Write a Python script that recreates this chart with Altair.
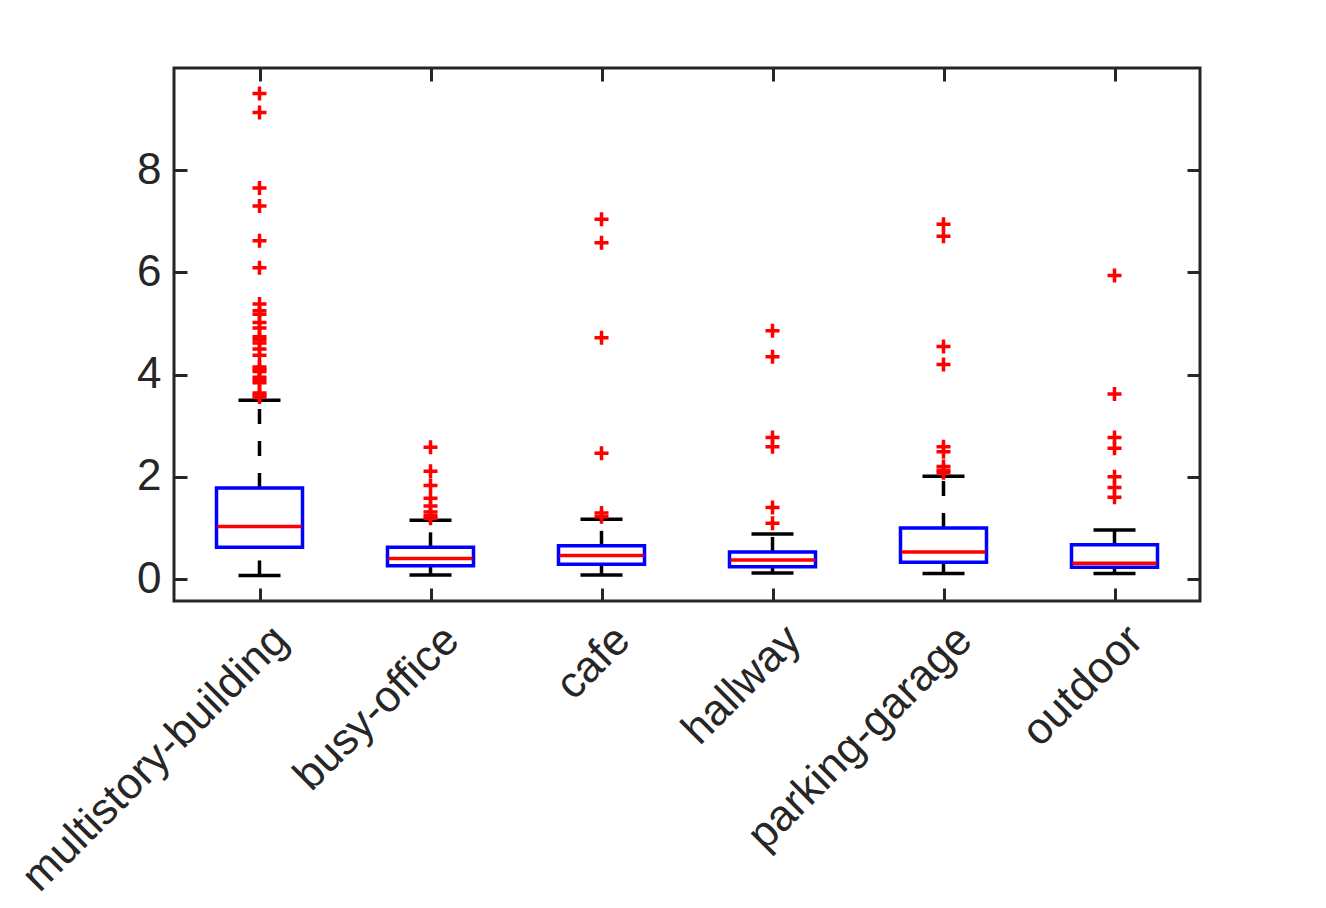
import altair as alt
import pandas as pd

categories = ["multistory-building", "busy-office", "cafe", "hallway", "parking-garage", "outdoor"]
q1 = [0.62, 0.26, 0.29, 0.24, 0.33, 0.23]
median = [1.03, 0.40, 0.46, 0.37, 0.53, 0.31]
q3 = [1.78, 0.62, 0.65, 0.53, 1.00, 0.67]
whisker_low = [0.07, 0.08, 0.08, 0.12, 0.11, 0.11]
whisker_high = [3.50, 1.15, 1.17, 0.88, 2.01, 0.96]

outliers_multistory = [9.50, 9.13, 7.65, 7.30, 6.62, 6.09, 5.38, 5.25, 5.18, 5.02, 4.91,
                       4.74, 4.68, 4.62, 4.50, 4.38, 4.15, 4.10, 4.06, 3.95, 3.90, 3.84,
                       3.64, 3.60, 3.56]
outliers_busy_office = [2.58, 2.11, 1.83, 1.58, 1.43, 1.31, 1.24, 1.19]
outliers_cafe = [7.04, 6.58, 4.72, 2.46, 1.29, 1.22]
outliers_hallway = [4.86, 4.35, 2.77, 2.59, 1.40, 1.09]
outliers_parking = [6.94, 6.71, 4.55, 4.20, 2.59, 2.49, 2.20, 2.13, 2.08]
outliers_outdoor = [5.94, 3.62, 2.77, 2.56, 2.00, 1.79, 1.60]

y_ticks = [0, 2, 4, 6, 8]

box_df = pd.DataFrame({
    "cat": categories, "q1": q1, "med": median, "q3": q3,
    "lo": whisker_low, "hi": whisker_high,
})
out_lists = [outliers_multistory, outliers_busy_office, outliers_cafe,
             outliers_hallway, outliers_parking, outliers_outdoor]
out_df = pd.DataFrame({
    "cat": [c for c, lst in zip(categories, out_lists) for _ in lst],
    "value": [v for lst in out_lists for v in lst],
})

FONT = "Liberation Sans"
TXT = "#262626"
FS = 44
LW = 3.5

x_scale = alt.Scale(type="point", padding=0.5, domain=categories)
y_scale = alt.Scale(domain=[-0.43, 10], nice=False, zero=False)

bottom_axis = alt.Axis(orient="bottom", offset=-13, tickSize=13, domain=False, grid=False,
                       tickColor=TXT, tickWidth=3, labelAngle=-45, labelAlign="right",
                       labelBaseline="middle", labelFontSize=FS, labelFont=FONT,
                       labelColor=TXT, labelPadding=32, labelOffset=21, labelLimit=2000,
                       title=None)
left_axis = alt.Axis(orient="left", offset=-13, tickSize=13, domain=False, grid=False,
                     values=y_ticks, tickColor=TXT, tickWidth=3, labelFontSize=FS,
                     labelFont=FONT, labelColor=TXT, labelPadding=13, title=None)
top_axis = alt.Axis(orient="top", offset=-13, tickSize=13, domain=False, grid=False,
                    labels=False, tickColor=TXT, tickWidth=3, title=None)
right_axis = alt.Axis(orient="right", offset=-13, tickSize=13, domain=False, grid=False,
                      values=y_ticks, labels=False, tickColor=TXT, tickWidth=3, title=None)

def X(axis=None):
    return alt.X("cat:N", sort=categories, scale=x_scale, axis=axis)

def Y(field, axis=None):
    return alt.Y(f"{field}:Q", scale=y_scale, axis=axis)

base = alt.Chart(box_df)

upper_whisker = base.mark_rule(color="black", strokeWidth=LW, strokeDash=[15, 17]).encode(
    x=X(bottom_axis), y=Y("q3", left_axis), y2="hi:Q")
lower_whisker = base.mark_rule(color="black", strokeWidth=LW, strokeDash=[15, 17]).encode(
    x=X(), y=Y("lo"), y2="q1:Q")
box = base.mark_bar(size=86, fill="white", fillOpacity=0, stroke="#0000ff", strokeWidth=LW).encode(
    x=X(), y=Y("q1"), y2="q3:Q")
med_line = base.mark_tick(color="#ff0000", size=84, thickness=LW, orient="horizontal",
                          opacity=1).encode(x=X(), y=Y("med"))
cap_hi = base.mark_tick(color="black", size=42, thickness=LW, orient="horizontal",
                        opacity=1).encode(x=X(top_axis), y=Y("hi", right_axis))
cap_lo = base.mark_tick(color="black", size=42, thickness=LW, orient="horizontal",
                        opacity=1).encode(x=X(), y=Y("lo"))
outliers = alt.Chart(out_df).mark_point(
    shape="M-1,0L1,0M0,-1L0,1", size=196, filled=False, stroke="#ff0000", strokeWidth=LW,
    opacity=1).encode(x=X(), y=Y("value"))

chart = alt.layer(
    upper_whisker, lower_whisker, box, med_line, cap_hi, cap_lo, outliers
).resolve_axis(x="independent", y="independent").properties(
    width=1026, height=533,
    autosize="none",
    padding={"left": 166, "top": 60, "right": 110, "bottom": 300},
    background="white",
).configure_view(stroke=TXT, strokeWidth=3)

chart.save("out.html", embed_options={"renderer": "svg", "actions": False})
